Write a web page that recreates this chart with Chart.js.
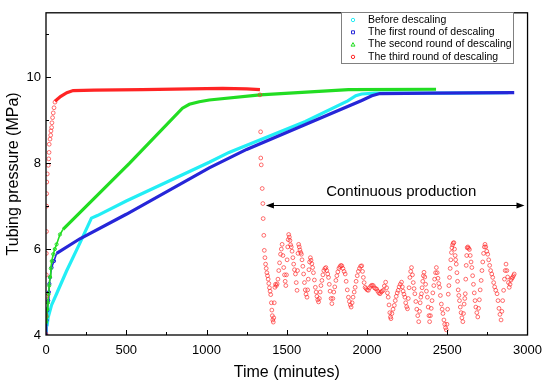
<!DOCTYPE html>
<html>
<head>
<meta charset="utf-8">
<script src="https://cdn.jsdelivr.net/npm/chart.js@4.4.1/dist/chart.umd.min.js"></script>
<style>
  html, body { margin: 0; padding: 0; background: #fff; }
  #wrap { width: 550px; height: 386px; }
</style>
</head>
<body>
<div id="wrap"><canvas id="chart" width="550" height="386"></canvas></div>
<script>
// legend labels, in draw order of the legend
const seriesLabels = [
    'Before descaling',
    'The first round of descaling',
    'The second round of descaling',
    'The third round of descaling'
];
const seriesColors = ['#22eef5', '#2626d8', '#22dd22', '#ff2424'];

const xTickValues = [0, 500, 1000, 1500, 2000, 2500, 3000];
const yTickValues = [4, 6, 8, 10];

// [time (min), tubing pressure (MPa)]
const beforeDescaling = [
    [0, 4.05], [6, 4.2], [14, 4.42], [35, 4.7], [66, 4.96], [128, 5.49], [211, 6.14],
    [283, 6.72], [320, 6.78], [500, 7.12], [1017, 8.02], [1140, 8.25], [1616, 8.97],
    [1880, 9.45], [1930, 9.57], [1966, 9.61], [2050, 9.63], [2500, 9.63], [2880, 9.64]
];
const firstRound = [
    [0, 4.0], [4, 4.34], [8, 4.57], [14, 4.8], [18, 5.0], [21, 5.19], [25, 5.34],
    [35, 5.57], [50, 5.72], [66, 5.9], [211, 6.24], [500, 6.81], [1017, 7.89],
    [1250, 8.32], [1616, 8.9], [1967, 9.46], [2030, 9.57], [2080, 9.62], [2400, 9.63], [2917, 9.64]
];
const secondRound = [
    [0, 4.3], [4, 4.42], [8, 4.6], [12, 4.75], [16, 4.95], [20, 5.15], [25, 5.35],
    [30, 5.55], [36, 5.72], [45, 5.88], [55, 6.0], [66, 6.11], [87, 6.34], [106, 6.46],
    [521, 8.0], [850, 9.28], [893, 9.37], [955, 9.43], [1017, 9.47], [1333, 9.59],
    [1884, 9.71], [2430, 9.72]
];
const thirdRise = [
    [0, 4.02], [1, 4.45], [1, 4.9], [2, 5.4], [2, 5.9], [3, 6.41], [4, 7.0], [4, 7.29],
    [5, 7.56], [8, 7.75], [14, 7.95], [17, 8.1], [19, 8.25], [20, 8.44], [25, 8.56],
    [29, 8.65], [31, 8.75], [35, 8.83], [37, 8.94], [41, 9.06], [45, 9.17], [50, 9.29], [56, 9.42]
];
const thirdPlateau = [
    [56, 9.44], [90, 9.55], [130, 9.64], [169, 9.69], [300, 9.7], [600, 9.71],
    [900, 9.73], [1100, 9.74], [1250, 9.73], [1333, 9.71]
];
const thirdProduction = [
    [1333, 9.59], [1337, 8.73], [1338, 8.12], [1341, 7.96], [1347, 7.41], [1351, 7.06], [1353, 6.71],
    [1357, 6.32], [1360, 5.97], [1364, 5.8], [1368, 5.65], [1372, 5.55], [1376, 5.45], [1380, 5.38],
    [1384, 5.3], [1388, 5.2], [1392, 5.1], [1396, 5.02], [1400, 4.94], [1404, 4.75], [1407, 4.58],
    [1410, 4.45], [1413, 4.35], [1416, 4.3], [1419, 4.4], [1422, 4.75], [1426, 5.11], [1430, 5.18],
    [1435, 5.15], [1440, 5.19], [1445, 5.3], [1450, 5.5], [1455, 5.68], [1461, 5.88], [1466, 6.0],
    [1471, 6.11], [1476, 5.85], [1481, 5.57], [1486, 5.4], [1490, 5.25], [1494, 5.15], [1498, 5.4],
    [1502, 5.75], [1506, 6.05], [1509, 6.22], [1512, 6.34], [1516, 6.28], [1520, 6.2], [1524, 6.1],
    [1528, 6.05], [1533, 5.95], [1538, 5.8], [1543, 5.65], [1548, 5.52], [1554, 5.42], [1559, 5.22],
    [1564, 5.04], [1567, 5.5], [1570, 5.9], [1574, 6.11], [1578, 6.05], [1582, 5.98], [1587, 5.92],
    [1591, 5.88], [1595, 5.75], [1600, 5.6], [1605, 5.42], [1610, 5.22], [1615, 5.05], [1620, 4.95],
    [1626, 4.88], [1630, 5.05], [1634, 5.3], [1638, 5.52], [1642, 5.7], [1647, 5.8], [1651, 5.74],
    [1656, 5.66], [1661, 5.57], [1666, 5.45], [1672, 5.28], [1678, 5.11], [1683, 5.0], [1688, 4.9],
    [1693, 4.82], [1698, 4.77], [1703, 4.85], [1708, 5.0], [1713, 5.15], [1719, 5.27], [1725, 5.4],
    [1731, 5.5], [1738, 5.55], [1744, 5.57], [1749, 5.5], [1755, 5.42], [1760, 5.34], [1765, 5.18],
    [1770, 5.02], [1776, 4.85], [1781, 4.73], [1787, 4.85], [1793, 5.0], [1799, 5.12], [1806, 5.27],
    [1812, 5.38], [1818, 5.47], [1825, 5.55], [1831, 5.59], [1837, 5.62], [1843, 5.61], [1850, 5.55],
    [1857, 5.48], [1864, 5.42], [1870, 5.25], [1877, 5.05], [1884, 4.88], [1890, 4.78], [1896, 4.7],
    [1901, 4.65], [1907, 4.75], [1913, 4.88], [1920, 5.0], [1926, 5.11], [1932, 5.25], [1939, 5.38],
    [1946, 5.48], [1953, 5.55], [1960, 5.6], [1967, 5.61], [1972, 5.48], [1977, 5.34], [1982, 5.22],
    [1988, 5.11], [1994, 5.08], [2001, 5.05], [2008, 5.04], [2016, 5.1], [2024, 5.14], [2031, 5.16],
    [2039, 5.15], [2046, 5.1], [2053, 5.08], [2060, 5.07], [2067, 5.02], [2074, 4.98], [2081, 4.96],
    [2088, 5.0], [2094, 5.02], [2101, 5.04], [2108, 5.14], [2116, 5.23], [2122, 5.1], [2127, 4.98],
    [2132, 4.88], [2137, 4.7], [2142, 4.52], [2146, 4.42], [2149, 4.38], [2155, 4.5], [2162, 4.6],
    [2170, 4.69], [2176, 4.8], [2182, 4.9], [2188, 4.98], [2194, 5.04], [2200, 5.12], [2207, 5.18],
    [2215, 5.23], [2220, 5.12], [2225, 5.02], [2230, 4.95], [2236, 4.88], [2241, 4.75], [2247, 4.66],
    [2252, 4.61], [2257, 4.85], [2262, 5.1], [2267, 5.34], [2272, 5.48], [2277, 5.57], [2283, 5.4],
    [2288, 5.22], [2293, 5.08], [2298, 4.96], [2304, 4.78], [2310, 4.6], [2316, 4.45], [2322, 4.31],
    [2327, 4.55], [2331, 4.75], [2335, 4.88], [2339, 4.96], [2343, 5.1], [2347, 5.25], [2351, 5.38],
    [2355, 5.46], [2360, 5.35], [2365, 5.18], [2370, 5.02], [2376, 4.88], [2381, 4.65], [2386, 4.45],
    [2390, 4.31], [2395, 4.45], [2400, 4.62], [2405, 4.8], [2410, 4.98], [2416, 5.15], [2421, 5.3],
    [2427, 5.45], [2432, 5.57], [2437, 5.45], [2442, 5.32], [2447, 5.2], [2452, 5.11], [2457, 4.92],
    [2463, 4.72], [2468, 4.6], [2473, 4.5], [2479, 4.35], [2484, 4.25], [2489, 4.17], [2494, 4.12],
    [2498, 4.25], [2502, 4.6], [2506, 4.95], [2510, 5.15], [2514, 5.34], [2518, 5.55], [2522, 5.75],
    [2526, 5.92], [2529, 6.03], [2533, 6.1], [2537, 6.14], [2541, 6.15], [2545, 6.0], [2549, 5.85],
    [2552, 5.75], [2556, 5.65], [2560, 5.45], [2564, 5.25], [2568, 5.05], [2572, 4.92], [2576, 4.8],
    [2581, 4.65], [2586, 4.52], [2591, 4.4], [2597, 4.31], [2601, 4.5], [2605, 4.72], [2609, 4.85],
    [2612, 4.96], [2615, 5.3], [2618, 5.62], [2621, 5.85], [2624, 6.03], [2628, 6.05], [2633, 6.02],
    [2638, 5.99], [2643, 5.85], [2648, 5.7], [2653, 5.57], [2658, 5.38], [2663, 5.18], [2668, 4.98],
    [2673, 4.8], [2678, 4.65], [2684, 4.52], [2690, 4.42], [2695, 4.62], [2700, 4.82], [2705, 5.05],
    [2711, 5.27], [2716, 5.5], [2721, 5.7], [2726, 5.9], [2731, 6.05], [2735, 6.11], [2740, 6.05],
    [2746, 5.95], [2752, 5.88], [2758, 5.75], [2764, 5.62], [2770, 5.5], [2777, 5.42], [2783, 5.34],
    [2789, 5.22], [2795, 5.12], [2802, 5.04], [2810, 4.96], [2816, 4.8], [2822, 4.62], [2828, 4.48],
    [2835, 4.35], [2840, 4.55], [2845, 4.8], [2851, 5.04], [2856, 5.3], [2861, 5.5], [2866, 5.65],
    [2871, 5.5], [2876, 5.35], [2881, 5.22], [2886, 5.11], [2891, 5.18], [2897, 5.28], [2902, 5.32],
    [2907, 5.34], [2912, 5.38], [2917, 5.42]
];

// "Continuous production" arrow, in data units
const arrowSpan = [1370, 2981];
const arrowLevel = 7.03;
const noteLabel = 'Continuous production';
const notePos = [2213, 7.33];

const FONT = '"Liberation Sans", Arial, sans-serif';
Chart.defaults.font.family = FONT;
Chart.defaults.color = '#000';

const toXY = rows => rows.map(r => ({ x: r[0], y: r[1] }));

// early samples are sparse markers (thin line), later ones merge into a thick line
function markedLine(rows, color, markUntil, order) {
    return {
        data: toXY(rows),
        showLine: true,
        borderColor: color,
        borderWidth: 3.2,
        pointRadius: ctx => (ctx.raw && ctx.raw.x < markUntil ? 1.6 : 0),
        pointBorderColor: color,
        pointBackgroundColor: 'rgba(0,0,0,0)',
        pointBorderWidth: 1,
        segment: {
            borderWidth: ctx => (ctx.p1.parsed.x <= markUntil ? 1.6 : 3.2)
        },
        order: order
    };
}

const frame = {
    id: 'frame',
    afterDatasetsDraw(chart) {
        const { ctx, chartArea: a, scales } = chart;
        ctx.save();
        ctx.strokeStyle = '#000';
        ctx.lineWidth = 1.3;
        ctx.strokeRect(a.left, a.top, a.right - a.left, a.bottom - a.top);
        ctx.lineWidth = 1;
        ctx.beginPath();
        for (let v = 250; v < 3000; v += 250) {
            const x = Math.round(scales.x.getPixelForValue(v)) + 0.5;
            const len = v % 500 === 0 ? 5 : 3;
            ctx.moveTo(x, a.bottom);
            ctx.lineTo(x, a.bottom - len);
        }
        for (let v = 5; v <= 11; v += 1) {
            const y = Math.round(scales.y.getPixelForValue(v)) + 0.5;
            const len = v % 2 === 0 ? 5 : 3;
            ctx.moveTo(a.left, y);
            ctx.lineTo(a.left + len, y);
        }
        ctx.stroke();

        // annotation arrow
        const x1 = scales.x.getPixelForValue(arrowSpan[0]);
        const x2 = scales.x.getPixelForValue(arrowSpan[1]);
        const y = Math.round(scales.y.getPixelForValue(arrowLevel)) + 0.5;
        ctx.beginPath();
        ctx.moveTo(x1 + 4, y);
        ctx.lineTo(x2 - 4, y);
        ctx.stroke();
        ctx.fillStyle = '#000';
        ctx.beginPath();
        ctx.moveTo(x1, y); ctx.lineTo(x1 + 8, y - 3); ctx.lineTo(x1 + 8, y + 3); ctx.closePath();
        ctx.moveTo(x2, y); ctx.lineTo(x2 - 8, y - 3); ctx.lineTo(x2 - 8, y + 3); ctx.closePath();
        ctx.fill();
        ctx.font = '15px ' + FONT;
        ctx.textAlign = 'center';
        ctx.textBaseline = 'middle';
        ctx.fillText(noteLabel, scales.x.getPixelForValue(notePos[0]), scales.y.getPixelForValue(notePos[1]));
        ctx.restore();
    }
};

const boxLegend = {
    id: 'boxLegend',
    afterDraw(chart) {
        const ctx = chart.ctx;
        const left = 341, top = 12, width = 172, height = 51;
        ctx.save();
        ctx.fillStyle = '#fff';
        ctx.fillRect(left, top, width, height);
        ctx.strokeStyle = '#808080';
        ctx.lineWidth = 1;
        ctx.strokeRect(left + 0.5, top + 0.5, width, height);
        ctx.font = '10.5px ' + FONT;
        ctx.textBaseline = 'middle';
        ctx.textAlign = 'left';
        seriesLabels.forEach((label, i) => {
            const y = top + 8 + i * 12.3;
            const mx = left + 12;
            ctx.strokeStyle = seriesColors[i];
            ctx.beginPath();
            if (i === 1) {
                ctx.rect(mx - 1.5, y - 1.5, 3, 3);
            } else if (i === 2) {
                ctx.moveTo(mx, y - 2); ctx.lineTo(mx + 2, y + 1.5); ctx.lineTo(mx - 2, y + 1.5); ctx.closePath();
            } else {
                ctx.arc(mx, y, 1.7, 0, Math.PI * 2);
            }
            ctx.stroke();
            ctx.fillStyle = '#000';
            ctx.fillText(label, left + 27, y);
        });
        ctx.restore();
    }
};

new Chart(document.getElementById('chart'), {
    type: 'scatter',
    data: {
        datasets: [
            {
                label: seriesLabels[3],
                data: toXY(thirdRise.concat(thirdProduction)),
                showLine: false,
                pointRadius: 1.9,
                pointBorderWidth: 0.9,
                pointBorderColor: 'rgba(255, 40, 40, 0.75)',
                pointBackgroundColor: 'rgba(0,0,0,0)',
                order: 0
            },
            {
                label: seriesLabels[3] + ' line',
                data: toXY(thirdPlateau),
                showLine: true,
                borderColor: seriesColors[3],
                borderWidth: 3.2,
                pointRadius: 0,
                order: 1
            },
            markedLine(secondRound, seriesColors[2], 106, 2),
            markedLine(firstRound, seriesColors[1], 66, 3),
            markedLine(beforeDescaling, seriesColors[0], 6, 4)
        ]
    },
    options: {
        responsive: false,
        animation: false,
        layout: { padding: { top: 8, right: 20, left: 0, bottom: 0 } },
        plugins: {
            legend: { display: false },
            tooltip: { enabled: false }
        },
        scales: {
            x: {
                type: 'linear',
                min: 0,
                max: 3000,
                afterBuildTicks: s => { s.ticks = xTickValues.map(v => ({ value: v })); },
                afterFit: s => { s.height = 51; },
                grid: { display: false, drawTicks: false },
                border: { display: false },
                ticks: { font: { size: 13 }, padding: 8, maxRotation: 0, callback: v => String(v) },
                title: {
                    display: true,
                    text: 'Time (minutes)',
                    font: { size: 16 },
                    padding: { top: 0, bottom: 4 }
                }
            },
            y: {
                min: 4,
                max: 11.5,
                afterBuildTicks: s => { s.ticks = yTickValues.map(v => ({ value: v })); },
                afterFit: s => { s.width = 46; },
                grid: { display: false, drawTicks: false },
                border: { display: false },
                ticks: { font: { size: 13 }, padding: 5, callback: v => String(v) },
                title: {
                    display: true,
                    text: 'Tubing pressure (MPa)',
                    font: { size: 16 },
                    padding: { top: 4, bottom: 0 }
                }
            }
        }
    },
    plugins: [frame, boxLegend]
});
</script>
</body>
</html>
